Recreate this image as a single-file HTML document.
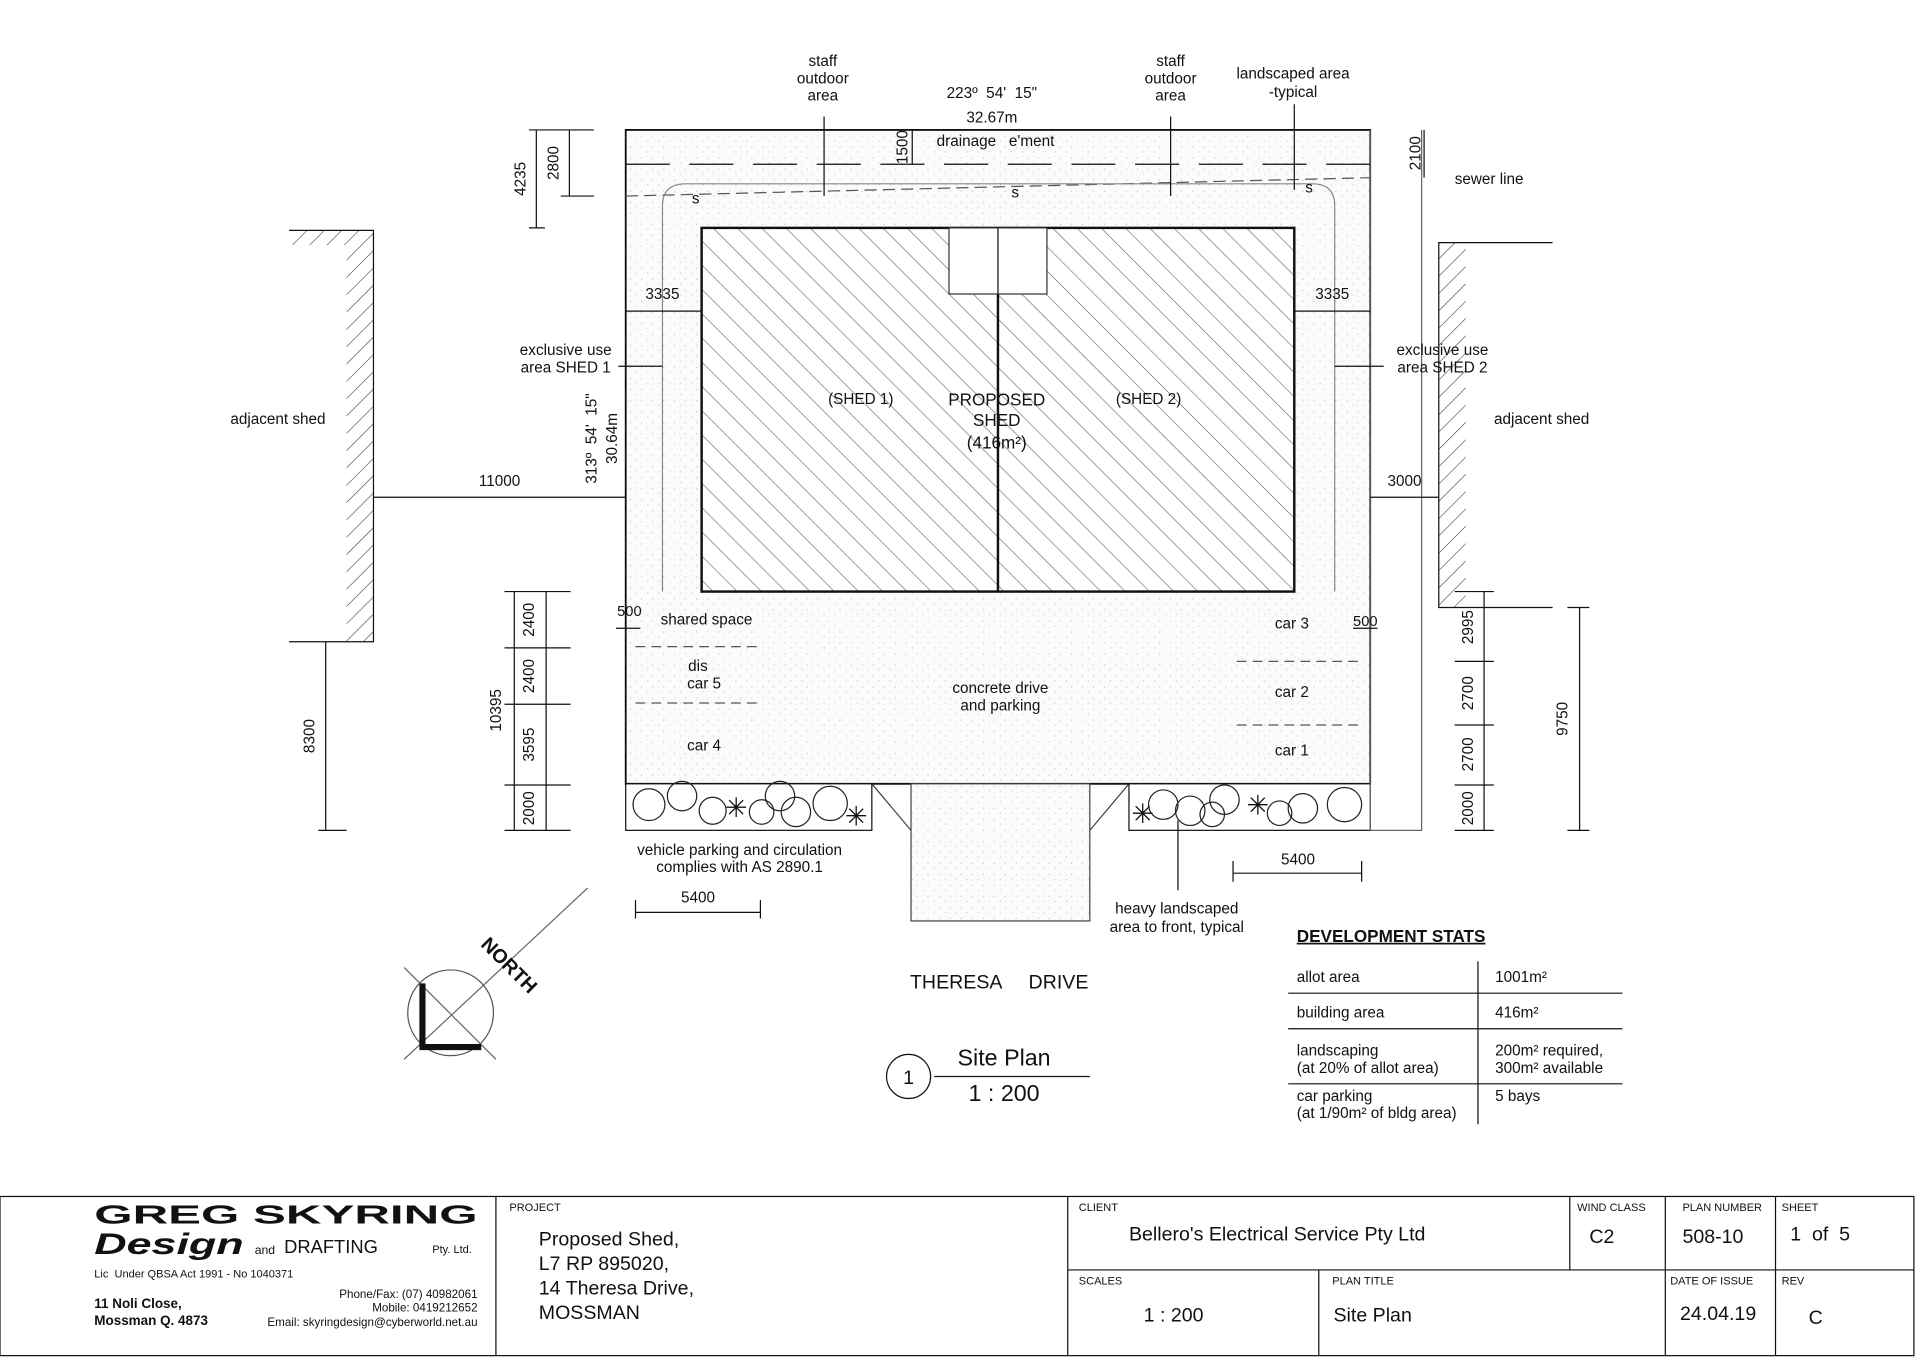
<!DOCTYPE html>
<html><head><meta charset="utf-8"><style>
html,body{margin:0;padding:0;background:#fff}
svg{display:block}
text{font-family:"Liberation Sans",sans-serif;fill:#111;white-space:pre}
</style></head><body>
<svg width="1920" height="1357" viewBox="0 0 1568 1108" xmlns="http://www.w3.org/2000/svg">
<defs>
<pattern id="hatch" width="14" height="14" patternUnits="userSpaceOnUse" patternTransform="rotate(-45)">
<rect width="14" height="14" fill="#fff"/><line x1="0" y1="0" x2="0" y2="14" stroke="#666" stroke-width="1"/></pattern>
<pattern id="stip" width="9" height="9" patternUnits="userSpaceOnUse">
<rect width="9" height="9" fill="#fbfbfb"/><circle cx="2" cy="3" r=".5" fill="#bbb"/><circle cx="7" cy="7" r=".5" fill="#ccc"/></pattern>
<pattern id="wh" width="10" height="10" patternUnits="userSpaceOnUse" patternTransform="rotate(45)">
<line x1="0" y1="0" x2="0" y2="10" stroke="#444" stroke-width="1"/></pattern>
</defs>
<g stroke="#111" fill="none" stroke-width="1">
<rect x="511" y="106" width="608" height="534" fill="url(#stip)" stroke="#111" stroke-width="1.5"/>
<rect x="744" y="640" width="146" height="112" fill="url(#stip)" stroke="#444"/>
<path d="M712 640 L744 678 M922 640 L890 678" stroke="#444"/>
<rect x="511" y="640" width="201" height="38" fill="#fff"/>
<rect x="922" y="640" width="197" height="38" fill="#fff"/>
<path d="M1119 106 V678 M1161 106 V678 H1119" stroke="#666"/>
<line x1="511" y1="134" x2="1119" y2="134" stroke-dasharray="36,16"/>
<path d="M511 160 L1119 145" stroke="#555" stroke-dasharray="10,5"/>
<path d="M541 483 V168 Q541 150 560 150 H1072 Q1090 150 1090 168 V483" stroke="#888"/>
<rect x="573" y="186" width="484" height="297" fill="url(#hatch)" stroke="#111" stroke-width="2"/>
<line x1="815" y1="186" x2="815" y2="483" stroke-width="2"/>
<rect x="775" y="186" width="80" height="54" fill="#fff" stroke="#333"/>
<line x1="815" y1="186" x2="815" y2="240"/>
<rect x="283" y="188" width="22" height="336" fill="url(#wh)" stroke="none"/>
<path d="M236 188 H305 V524 H236" />
<rect x="236" y="188" width="47" height="12" fill="url(#wh)" stroke="none"/>
<rect x="1175" y="198" width="22" height="298" fill="url(#wh)" stroke="none"/>
<path d="M1268 198 H1175 V496 H1268"/>
<path d="M305 406 H511 M1119 406 H1175"/>
<path d="M266 524 V678 M260 678 H283"/>
<path d="M420 483 V678 M446 483 V678 M412 483 H466 M412 529 H466 M412 575 H466 M412 641 H466 M412 678 H466"/>
<path d="M1212 483 V678 M1188 483 H1220 M1188 540 H1220 M1188 592 H1220 M1188 641 H1220 M1188 678 H1220"/>
<path d="M1290 496 V678 M1280 496 H1298 M1280 678 H1298"/>
<path d="M438 106 V186 M465 106 V160 M432 106 H485 M458 160 H485 M432 186 H445"/>
<path d="M745 106 V134 M1163 106 V145"/>
<path d="M519 745 H621 M519 735 V750 M621 735 V750 M1007 713 H1112 M1007 703 V720 M1112 703 V720"/>
<path d="M511 254 H573 M1057 254 H1119 M503 513 H523 M1105 513 H1125"/>
<path d="M519 528 H621 M519 574 H621 M1010 540 H1110 M1010 592 H1110" stroke-dasharray="8,5" stroke="#555"/>
<path d="M673 95 V160 M956 95 V160 M1057 85 V155 M962 670 V727"/>
<path d="M505 299 H541 M1090 299 H1130"/>
<circle cx="368" cy="827" r="35" stroke="#555"/>
<path d="M330 865 L480 725 M330 790 L405 865" stroke="#666"/>
<path d="M345 803 V855 H393" stroke-width="5"/>
<circle cx="742" cy="879" r="18"/>
<line x1="763" y1="879" x2="890" y2="879"/>
<path d="M1052 811 H1325 M1052 840 H1325 M1052 885 H1325 M1207 785 V918"/>
<rect x="0" y="977" width="1563" height="130"/>
<path d="M405 977 V1107 M872 977 V1107 M1282 977 V1037 M1360 977 V1107 M1450 977 V1107 M872 1037 H1563 M1077 1037 V1107"/>
</g>
<g stroke="#222" fill="none">
<circle cx="530" cy="657" r="13"/><circle cx="557" cy="650" r="12"/><circle cx="582" cy="662" r="11"/><circle cx="637" cy="650" r="12"/><circle cx="650" cy="663" r="12"/><circle cx="678" cy="656" r="14"/><circle cx="622" cy="663" r="10"/>
<circle cx="950" cy="657" r="12"/><circle cx="972" cy="662" r="12"/><circle cx="1000" cy="653" r="12"/><circle cx="1064" cy="660" r="12"/><circle cx="1098" cy="657" r="14"/><circle cx="990" cy="665" r="10"/><circle cx="1045" cy="664" r="10"/>
</g>
<g font-size="22" fill="#111"><text x="592" y="667">✳</text><text x="690" y="674">✳</text><text x="924" y="672">✳</text><text x="1018" y="665">✳</text></g>
<g font-size="12.5" text-anchor="middle">
<text x="672" y="54">staff</text><text x="672" y="68">outdoor</text><text x="672" y="82">area</text>
<text x="956" y="54">staff</text><text x="956" y="68">outdoor</text><text x="956" y="82">area</text>
<text x="1056" y="64">landscaped area</text><text x="1056" y="79">-typical</text>
<text x="810" y="80">223º  54'  15"</text><text x="810" y="100">32.67m</text>
<text x="813" y="119">drainage   e'ment</text>
<text x="227" y="346">adjacent shed</text><text x="1259" y="346">adjacent shed</text>
<text x="462" y="290">exclusive use</text><text x="462" y="304">area SHED 1</text>
<text x="1178" y="290">exclusive use</text><text x="1178" y="304">area SHED 2</text>
<text x="541" y="244">3335</text><text x="1088" y="244">3335</text>
<text x="408" y="397">11000</text><text x="1147" y="397">3000</text>
<text x="703" y="330">(SHED 1)</text><text x="938" y="330">(SHED 2)</text>
<text x="814" y="331" font-size="14">PROPOSED</text><text x="814" y="348" font-size="14">SHED</text><text x="814" y="366" font-size="14">(416m²)</text>
<text x="577" y="510">shared space</text><text x="514" y="503" font-size="12">500</text><text x="1115" y="511" font-size="12">500</text>
<text x="570" y="548">dis</text><text x="575" y="562">car 5</text><text x="575" y="613">car 4</text>
<text x="1055" y="513">car 3</text><text x="1055" y="569">car 2</text><text x="1055" y="617">car 1</text>
<text x="817" y="566">concrete drive</text><text x="817" y="580">and parking</text>
<text x="604" y="698">vehicle parking and circulation</text><text x="604" y="712">complies with AS 2890.1</text>
<text x="570" y="737">5400</text><text x="1060" y="706">5400</text>
<text x="961" y="746">heavy landscaped</text><text x="961" y="761">area to front, typical</text>
<text x="816" y="807" font-size="16">THERESA     DRIVE</text>
<text x="742" y="885" font-size="16">1</text>
<text x="820" y="870" font-size="19">Site Plan</text><text x="820" y="899" font-size="19">1 : 200</text>
</g>
<text x="1188" y="150" font-size="12.5">sewer line</text>
<g font-size="12.5">
<text x="565" y="166">s</text><text x="826" y="161">s</text><text x="1066" y="157">s</text>
</g>
<g font-size="12.5" text-anchor="middle">
<text transform="translate(429,146) rotate(-90)">4235</text>
<text transform="translate(456,133) rotate(-90)">2800</text>
<text transform="translate(741,120) rotate(-90)">1500</text>
<text transform="translate(1160,125) rotate(-90)">2100</text>
<text transform="translate(487,358) rotate(-90)">313º  54'  15"</text>
<text transform="translate(504,358) rotate(-90)">30.64m</text>
<text transform="translate(257,601) rotate(-90)">8300</text>
<text transform="translate(409,580) rotate(-90)">10395</text>
<text transform="translate(436,506) rotate(-90)">2400</text>
<text transform="translate(436,552) rotate(-90)">2400</text>
<text transform="translate(436,608) rotate(-90)">3595</text>
<text transform="translate(436,660) rotate(-90)">2000</text>
<text transform="translate(1203,512) rotate(-90)">2995</text>
<text transform="translate(1203,566) rotate(-90)">2700</text>
<text transform="translate(1203,616) rotate(-90)">2700</text>
<text transform="translate(1203,660) rotate(-90)">2000</text>
<text transform="translate(1280,587) rotate(-90)">9750</text>
<text transform="translate(412,792) rotate(45)" font-size="16" font-weight="bold">NORTH</text>
</g>
<g font-size="12.5">
<text x="1059" y="769" font-size="14" font-weight="bold" text-decoration="underline">DEVELOPMENT STATS</text>
<text x="1059" y="802">allot area</text><text x="1221" y="802">1001m²</text>
<text x="1059" y="831">building area</text><text x="1221" y="831">416m²</text>
<text x="1059" y="862">landscaping</text><text x="1059" y="876">(at 20% of allot area)</text>
<text x="1221" y="862">200m² required,</text><text x="1221" y="876">300m² available</text>
<text x="1059" y="899">car parking</text><text x="1059" y="913">(at 1/90m² of bldg area)</text><text x="1221" y="899">5 bays</text>
</g>
<g>
<text x="77" y="999" font-size="21" font-weight="bold" textLength="313" lengthAdjust="spacingAndGlyphs">GREG SKYRING</text>
<text x="77" y="1024" font-size="24" font-weight="bold" font-style="italic" font-family="Liberation Serif" textLength="122" lengthAdjust="spacingAndGlyphs">Design</text>
<text x="208" y="1024" font-size="10">and</text><text x="232" y="1023" font-size="15">DRAFTING</text><text x="353" y="1023" font-size="9">Pty. Ltd.</text>
<text x="77" y="1043" font-size="9">Lic  Under QBSA Act 1991 - No 1040371</text>
<text x="77" y="1068" font-size="11" font-weight="bold">11 Noli Close,</text>
<text x="77" y="1082" font-size="11" font-weight="bold">Mossman Q. 4873</text>
<g font-size="9.5" text-anchor="end"><text x="390" y="1060">Phone/Fax: (07) 40982061</text><text x="390" y="1071">Mobile: 0419212652</text><text x="390" y="1083">Email: skyringdesign@cyberworld.net.au</text></g>
<g font-size="9"><text x="416" y="989">PROJECT</text><text x="881" y="989">CLIENT</text><text x="1288" y="989">WIND CLASS</text><text x="1374" y="989">PLAN NUMBER</text><text x="1455" y="989">SHEET</text>
<text x="881" y="1049">SCALES</text><text x="1088" y="1049">PLAN TITLE</text><text x="1364" y="1049">DATE OF ISSUE</text><text x="1455" y="1049">REV</text></g>
<g font-size="16"><text x="440" y="1017">Proposed Shed,</text><text x="440" y="1037">L7 RP 895020,</text><text x="440" y="1057">14 Theresa Drive,</text><text x="440" y="1077">MOSSMAN</text>
<text x="922" y="1013">Bellero's Electrical Service Pty Ltd</text><text x="1298" y="1015">C2</text><text x="1374" y="1015">508-10</text><text x="1462" y="1013">1  of  5</text>
<text x="934" y="1079">1 : 200</text><text x="1089" y="1079">Site Plan</text><text x="1372" y="1078">24.04.19</text><text x="1477" y="1081">C</text></g>
</g>
</svg>
</body></html>
